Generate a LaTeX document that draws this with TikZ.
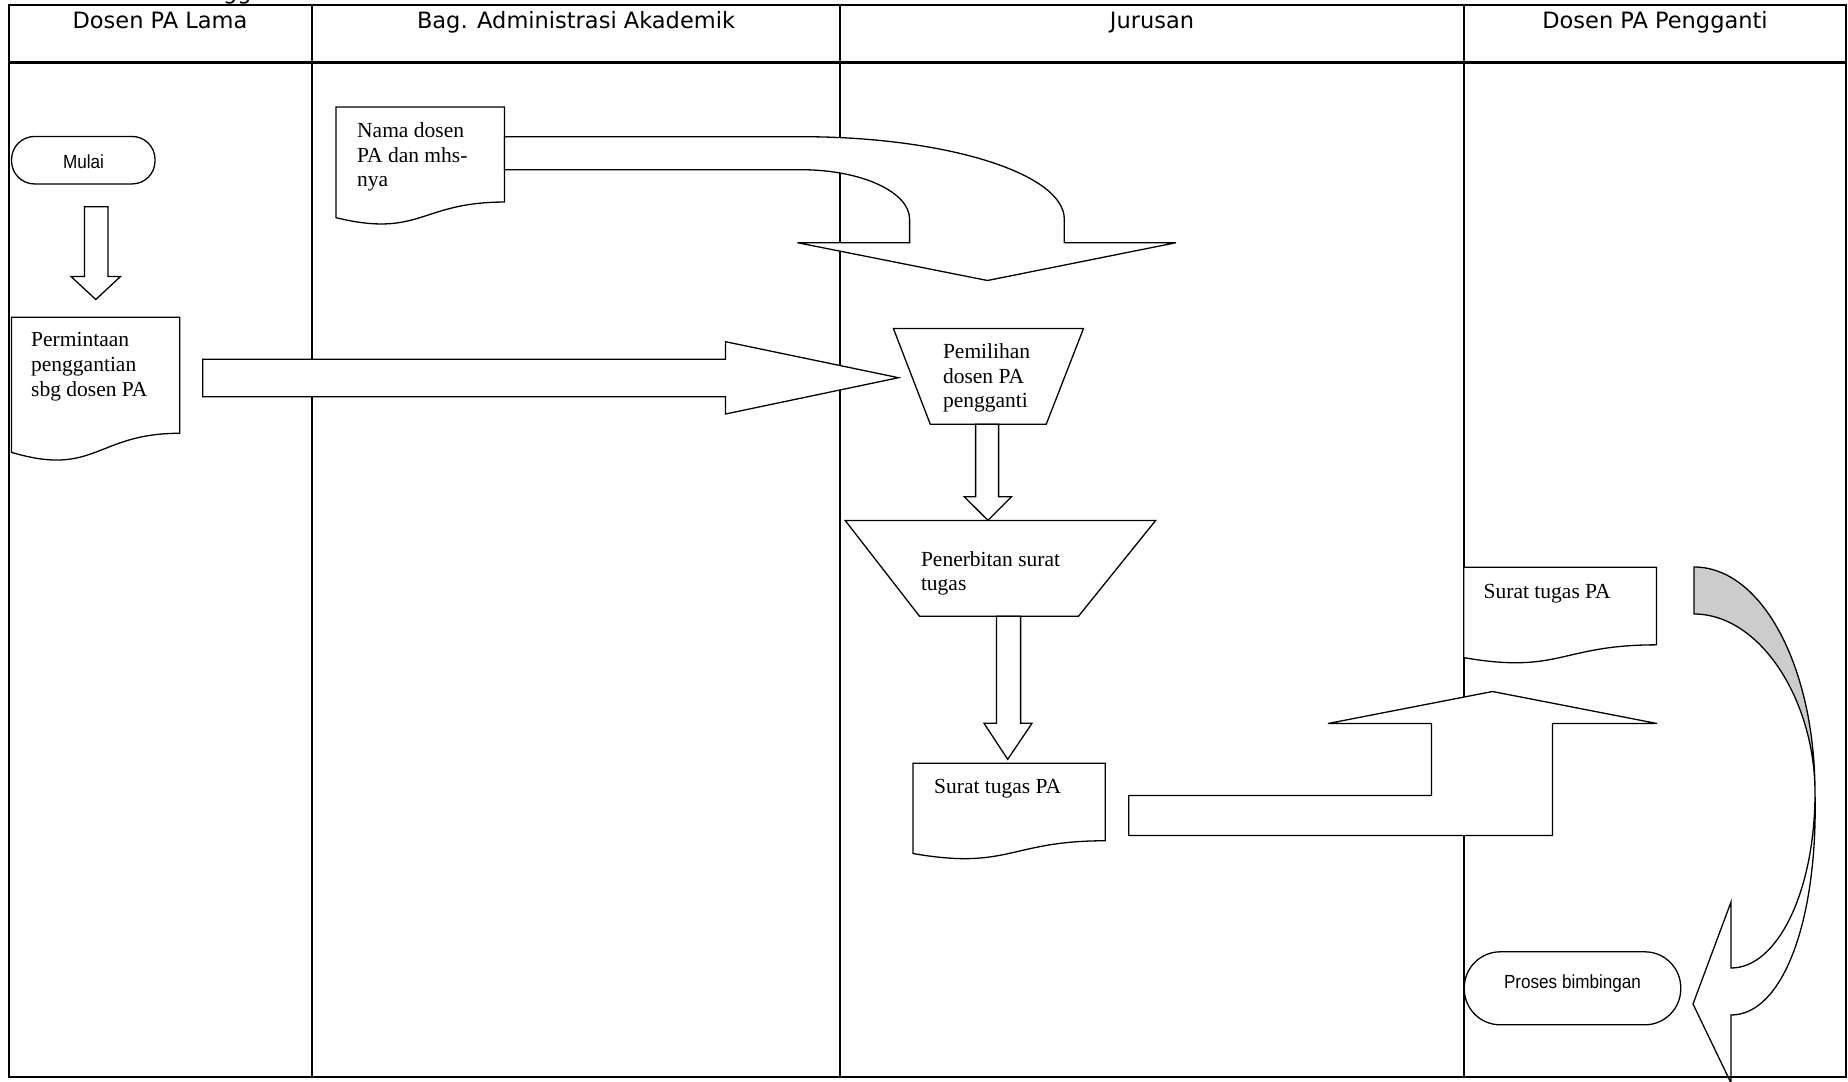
\documentclass[tikz,border=0pt]{standalone}
\usepackage{fontspec}
\setmainfont{Liberation Serif}
\newfontfamily\hdrfont{DejaVu Sans}
\newfontfamily\arialfont[FakeStretch=0.9]{Liberation Sans}
\definecolor{bandgray}{RGB}{204,204,204}
\tikzset{
  blk/.style={draw=black, line width=1.3pt, fill=white, line join=miter},
  frameline/.style={draw=black, line width=2.2pt},
  laneline/.style={draw=black, line width=1.7pt},
  hdr/.style={font=\hdrfont\fontsize{22.5}{27}\selectfont, anchor=base, inner sep=0pt},
  lbl/.style={font=\fontsize{21.5}{24.7}\selectfont, anchor=base west, inner sep=0pt},
  term/.style={draw=black, line width=1.3pt, fill=white, inner sep=0pt},
  termtxt/.style={font=\arialfont\fontsize{19}{22}\selectfont, anchor=base, inner sep=0pt},
}
\newcommand\mydoc[4]{%
  \draw[blk] (#1,#2) -- ({#1+#3},#2) -- ({#1+#3},{#2+0.802*#4})
    .. controls ({#1+0.5*#3},{#2+0.802*#4}) and ({#1+0.5*#3},{#2+1.107*#4}) .. (#1,{#2+0.934*#4}) -- cycle;}
\newcommand\tl[1]{\begin{tabular}[t]{@{}l@{}}#1\end{tabular}}

\begin{document}
\begin{tikzpicture}[x=1pt,y=-1pt]
\useasboundingbox (0,0) rectangle (1848,1082);
\fill[white] (0,0) rectangle (1848,1082);

% cut-off text at the very top
\node[font=\hdrfont\fontsize{22.5}{27}\selectfont, anchor=base west, inner sep=0pt] (cut) at (223,-1) {gg};

% lanes
\draw[laneline] (312.3,5) -- (312.3,1077);
\draw[laneline] (840.3,5) -- (840.3,1077);
\draw[laneline] (1463.8,5) -- (1463.8,1077);
\draw[frameline] (9,62.5) -- (1846,62.5);

% headers
\node[hdr] (h1) at (160,28.3) {Dosen PA Lama};
\node[hdr] (h2) at (576,28.3) {Bag. Administrasi Akademik};
\node[hdr] (h3) at (1152,28.3) {Jurusan};
\node[hdr] (h4) at (1655,28.3) {Dosen PA Pengganti};

% Mulai
\node[term, rounded corners=23pt, minimum width=143.5pt, minimum height=47.5pt] (mulai) at (83.3,160.2) {};
\node[termtxt] (mulaitxt) at (83.6,168.7) {Mulai};

% arrow Mulai -> Permintaan
\draw[blk] (84.4,206.7) -- (107.9,206.7) -- (107.9,276.5) -- (120.5,276.5) -- (95.8,299.5)
  -- (71,276.5) -- (84.4,276.5) -- cycle;

% document Permintaan
\mydoc{11.5}{317.3}{168.3}{144.6}
\node[lbl] (permintaan) at (31,346.7) {\tl{Permintaan\\penggantian\\sbg dosen PA}};

% big right arrow
\draw[blk] (202.7,359.3) -- (725.5,359.3) -- (725.5,341.7) -- (898.5,377.7) -- (725.5,414)
  -- (725.5,396.7) -- (202.7,396.7) -- cycle;

% document Nama dosen
\mydoc{336}{107}{168.4}{118.5}
\node[lbl] (nama) at (357,137.3) {\tl{Nama dosen\\PA dan mhs-\\nya}};

% curved arrow from Nama dosen
\draw[blk] (504.4,136.7) -- (801,136.7) .. controls (946.3,136.7) and (1064.3,173.6) .. (1064.3,219.2)
  -- (1064.3,242.7) -- (1176,242.7) -- (987.5,280.5) -- (797.5,242.7) -- (909.6,242.7)
  -- (909.6,219.2) .. controls (909.6,191.9) and (861.2,169.7) .. (801,169.7)
  -- (504.4,169.7) -- cycle;

% Pemilihan (manual operation)
\draw[blk] (893.4,328.5) -- (1083.5,328.5) -- (1046.2,424.3) -- (930.3,424.3) -- cycle;
\node[lbl] (pemilihan) at (942.8,358.3) {\tl{Pemilihan\\dosen PA\\pengganti}};

% arrow Pemilihan -> Penerbitan
\draw[blk] (975.6,424.3) -- (998.6,424.3) -- (998.6,496.8) -- (1011.5,496.8) -- (988,520.3)
  -- (964.3,496.8) -- (975.6,496.8) -- cycle;

% Penerbitan
\draw[blk] (845.2,520.5) -- (1155.6,520.5) -- (1078.5,616.2) -- (919.5,616.2) -- cycle;
\node[lbl] (penerbitan) at (920.8,566) {\tl{Penerbitan surat\\tugas}};

% arrow Penerbitan -> Surat tugas
\draw[blk] (996.5,616.2) -- (1020.6,616.2) -- (1020.6,723.3) -- (1032,723.3) -- (1007.7,759.3)
  -- (984,723.3) -- (996.5,723.3) -- cycle;

% Surat tugas PA (Jurusan)
\mydoc{913}{763.2}{192.3}{96.7}
\node[lbl] (suratj) at (934,793.3) {Surat tugas PA};

% bent-up arrow
\draw[blk] (1128.8,795.4) -- (1431.5,795.4) -- (1431.5,723.5) -- (1328,723.5) -- (1492.5,691.5)
  -- (1657,723.5) -- (1552.5,723.5) -- (1552.5,835.5) -- (1128.8,835.5) -- cycle;

% Surat tugas PA (Pengganti)
\mydoc{1463.8}{567.2}{192.7}{96.8}
\node[lbl] (suratp) at (1483.5,598) {Surat tugas PA};

% circular arrow to Proses bimbingan
\draw[blk, fill=bandgray] (1694,567) .. controls (1762,567) and (1815,667) .. (1815,793)
  .. controls (1815,700) and (1760,614) .. (1694,614) -- cycle;
\draw[blk] (1815,793) .. controls (1815,890) and (1778,968) .. (1731,968)
  -- (1731,902) -- (1693,1004) -- (1731,1083) -- (1731,1015)
  .. controls (1783,1015) and (1818,920) .. (1815,793) -- cycle;

% Proses bimbingan
\node[term, rounded corners=36pt, minimum width=216.5pt, minimum height=73pt] (proses) at (1572.5,988.3) {};
\node[termtxt] (prosestxt) at (1572.5,988.6) {Proses bimbingan};

% outer frame
\draw[frameline] (9,5) rectangle (1846,1077);
\end{tikzpicture}
\end{document}
